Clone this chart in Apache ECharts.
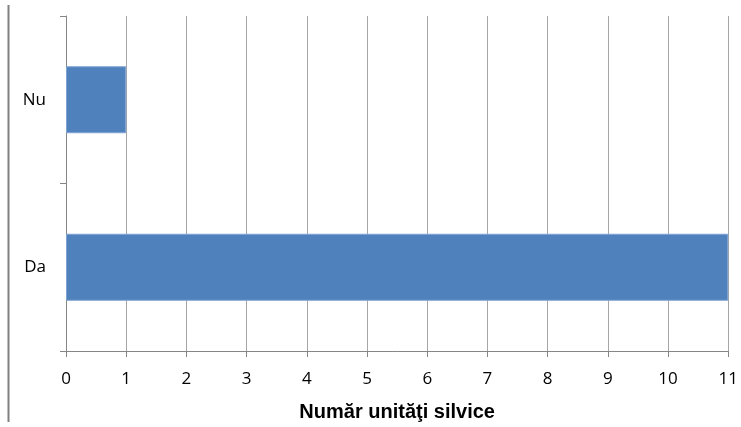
<!DOCTYPE html>
<html>
<head>
<meta charset="utf-8">
<script src="https://cdn.jsdelivr.net/npm/echarts@6/dist/echarts.min.js"></script>
<style>html,body{margin:0;padding:0;background:#fff}#c{width:741px;height:427px}</style>
</head>
<body>
<div id="c"></div>
<script>
var categories = ['Da', 'Nu'];
var values = [11, 1];
var xTicks = [0, 1, 2, 3, 4, 5, 6, 7, 8, 9, 10, 11];
var axisTitle = 'Număr unităţi silvice';

var chart = echarts.init(document.getElementById('c'), null, {renderer: 'canvas'});
var font = '"Open Sans", "Liberation Sans", sans-serif';
chart.setOption({
  animation: false,
  backgroundColor: '#fff',
  grid: {left: 66, right: 12, top: 16, bottom: 76, containLabel: false},
  graphic: [{
    type: 'line', shape: {x1: 8.5, y1: 5, x2: 8.5, y2: 422},
    style: {stroke: '#808080', lineWidth: 2}
  }],
  xAxis: {
    type: 'value', min: xTicks[0], max: xTicks[xTicks.length - 1], interval: 1,
    name: axisTitle, nameLocation: 'middle', nameGap: 51,
    nameTextStyle: {fontFamily: '"Liberation Sans", sans-serif', fontSize: 20, fontWeight: 'bold', color: '#000'},
    axisLine: {show: true, lineStyle: {color: '#868686', width: 1}},
    axisTick: {show: true, length: 6, lineStyle: {color: '#868686'}},
    axisLabel: {margin: 20, fontFamily: font, fontSize: 17, color: '#000'},
    splitLine: {show: true, lineStyle: {color: '#a6a6a6', width: 1}}
  },
  yAxis: {
    type: 'category', data: categories, boundaryGap: true,
    axisLine: {show: true, lineStyle: {color: '#868686', width: 1}},
    axisTick: {show: true, length: 6, lineStyle: {color: '#868686'}},
    axisLabel: {margin: 20, fontFamily: font, fontSize: 17, color: '#000'},
    splitLine: {show: false}
  },
  series: [{
    type: 'bar', data: values, barWidth: '40%',
    itemStyle: {color: '#4F81BD', borderColor: '#7FA3D3', borderWidth: 1}
  }]
});
</script>
</body>
</html>
